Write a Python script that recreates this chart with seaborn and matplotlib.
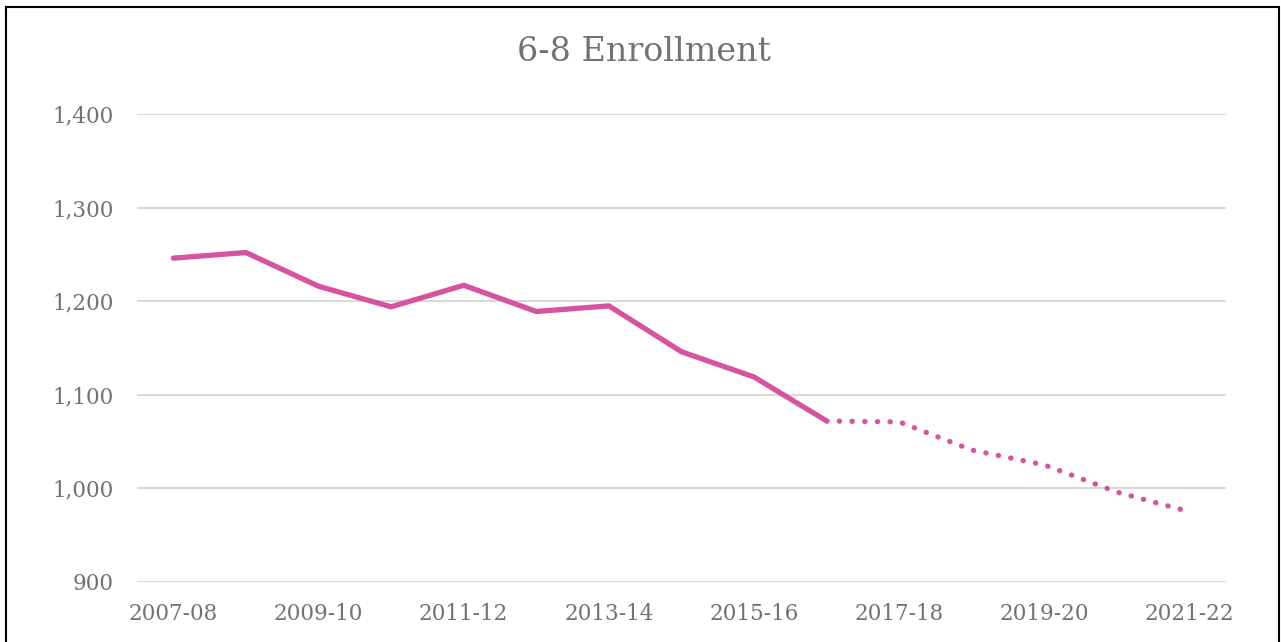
import matplotlib
matplotlib.use("Agg")
import matplotlib.pyplot as plt
import seaborn as sns
import pandas as pd
from matplotlib.patches import Rectangle

years = ["2007-08", "2008-09", "2009-10", "2010-11", "2011-12", "2012-13", "2013-14",
         "2014-15", "2015-16", "2016-17", "2017-18", "2018-19", "2019-20", "2020-21", "2021-22"]
actual = [1246, 1252, 1216, 1194, 1217, 1189, 1195, 1146, 1119, 1072]
projected = [1072, 1071, 1041, 1025, 996, 975]
title = "6-8 Enrollment"

sns.set_theme(style="white")
plt.rcParams["font.family"] = ["DejaVu Serif"]

gray = "#767171"
pink = "#D5539F"

fig = plt.figure(figsize=(12.81, 6.42), dpi=100)
ax = fig.add_axes([137 / 1281, (642 - 582) / 642, (1226 - 137) / 1281, 468 / 642])

df_a = pd.DataFrame({"x": range(len(actual)), "y": actual})
df_p = pd.DataFrame({"x": range(len(actual) - 1, len(actual) - 1 + len(projected)), "y": projected})

sns.lineplot(data=df_a, x="x", y="y", ax=ax, color=pink, linewidth=3.8,
             solid_capstyle="round", solid_joinstyle="round")
sns.lineplot(data=df_p, x="x", y="y", ax=ax, color=pink, linewidth=3.8,
             linestyle=(0, (0.05, 2.35)), dash_capstyle="round")

ax.set_xlim(-0.5, len(years) - 0.5)
ax.set_ylim(900, 1400)
ax.set_yticks([900, 1000, 1100, 1200, 1300, 1400])
ax.set_yticklabels([f"{v:,}" for v in [900, 1000, 1100, 1200, 1300, 1400]])
ax.set_xticks(range(0, len(years), 2))
ax.set_xticklabels(years[::2])
ax.tick_params(axis="both", colors=gray, labelsize=15.5, length=0)
ax.tick_params(axis="y", pad=17)
ax.tick_params(axis="x", pad=15)
ax.grid(axis="y", color="#D9D9D9", linewidth=1.5)
ax.set_axisbelow(True)
for s in ax.spines.values():
    s.set_visible(False)
ax.set_xlabel("")
ax.set_ylabel("")

fig.text(644 / 1281, 1 - 52 / 642, title, ha="center", va="center", color=gray, fontsize=24)

fig.patches.append(Rectangle((6 / 1281, -0.05), (1279 - 6) / 1281, 1.05 - 7 / 642,
                             transform=fig.transFigure, fill=False, edgecolor="black",
                             linewidth=1.5, zorder=10))

fig.savefig("out.png", dpi=100)
